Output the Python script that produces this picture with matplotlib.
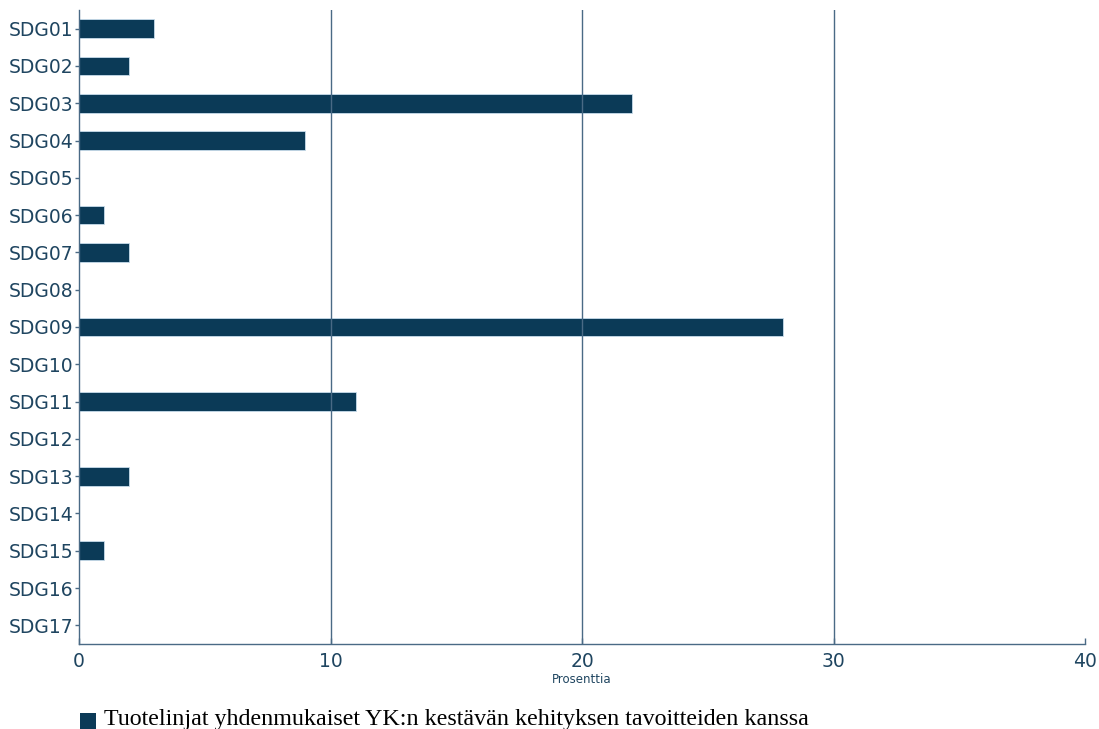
import matplotlib
matplotlib.use("Agg")
import matplotlib.pyplot as plt
from matplotlib.patches import Rectangle

plt.rcParams["font.family"] = ["DejaVu Sans"]

categories = [f"SDG{i:02d}" for i in range(1, 18)]
values = [3, 2, 22, 9, 0, 1, 2, 0, 28, 0, 11, 0, 2, 0, 1, 0, 0]
xticks = [0, 10, 20, 30, 40]
series_label = "Tuotelinjat yhdenmukaiset YK:n kestävän kehityksen tavoitteiden kanssa"
xlabel = "Prosenttia"

bar_color = "#0B3A57"
line_color = "#4A6A85"
text_color = "#1F4560"

W, H = 1099, 729
fig = plt.figure(figsize=(W / 100, H / 100), dpi=100)
ax = fig.add_axes([79/W, 1 - 644/H, (1085 - 79)/W, (644 - 10)/H])

ypos = list(range(len(categories)))
edges = ["#C8DCEB" if v > 0 else "none" for v in values]
ax.barh(ypos, values, height=0.5, color=bar_color, edgecolor=edges, linewidth=0.6, zorder=2)
ax.set_ylim(len(categories) - 0.5, -0.5)
ax.set_yticks(ypos)
ax.set_yticklabels(categories, fontsize=13.5, color=text_color)
ax.set_xlim(0, 40)
ax.set_xticks(xticks)
ax.set_xticklabels([str(t) for t in xticks], fontsize=13.5, color=text_color)
ax.set_xlabel(xlabel, fontsize=8.5, color=text_color, labelpad=1)

for t in xticks[1:-1]:
    ax.axvline(t, color=line_color, linewidth=1, zorder=3)
for s in ["top", "right"]:
    ax.spines[s].set_visible(False)
for s in ["left", "bottom"]:
    ax.spines[s].set_color(line_color)
    ax.spines[s].set_linewidth(1)
    ax.spines[s].set_zorder(4)
ax.tick_params(axis="y", length=3, width=1, color=line_color, pad=1)
ax.tick_params(axis="x", direction="in", length=4, width=1, color=line_color, pad=6)

# legend drawn manually (square sits low relative to the text, as in the reference)
fig.patches.append(Rectangle((80/W, 1 - 729/H), 16/W, 16/H, transform=fig.transFigure,
                             facecolor=bar_color, edgecolor="none"))
fig.text(104/W, 1 - 725/H, series_label, family="Liberation Serif", fontsize=17.3,
         color="black", ha="left", va="baseline")

fig.savefig("out.png", dpi=100)
